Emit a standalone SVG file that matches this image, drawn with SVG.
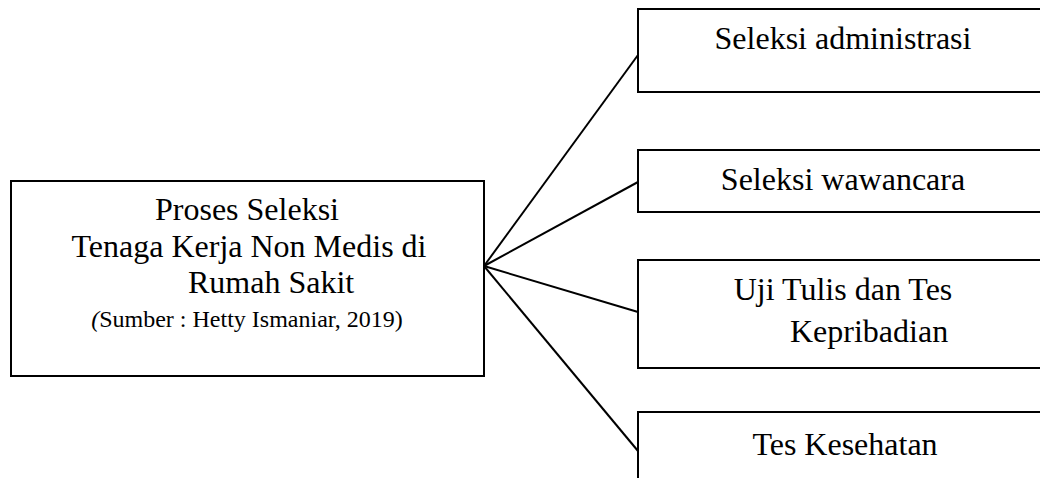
<svg xmlns="http://www.w3.org/2000/svg" width="1040" height="478" viewBox="0 0 1040 478">
<style>
.box{fill:#fff;stroke:#000;stroke-width:2}
.ln{stroke:#000;stroke-width:2;fill:none}
text{font-family:"Liberation Serif","Times New Roman",serif;fill:#000}
.t{font-size:32px}
.s{font-size:24px}
</style>
<rect width="1040" height="478" fill="#fff"/>
<g id="connectors">
<line class="ln" x1="484" y1="266" x2="638" y2="55"/>
<line class="ln" x1="484" y1="266" x2="638" y2="182"/>
<line class="ln" x1="484" y1="266" x2="638" y2="312"/>
<line class="ln" x1="484" y1="266" x2="638" y2="451"/>
</g>
<g id="main">
<rect class="box" x="11" y="181" width="473" height="195"/>
<text class="t" x="247" y="220" text-anchor="middle">Proses Seleksi</text>
<text class="t" x="249" y="257" text-anchor="middle">Tenaga Kerja Non Medis di</text>
<text class="t" x="188" y="293">Rumah Sakit</text>
<text class="s" x="247" y="327" text-anchor="middle"><tspan font-style="italic">(</tspan>Sumber : Hetty Ismaniar, 2019)</text>
</g>
<g id="n1">
<rect class="box" x="638" y="9" width="420" height="83"/>
<text class="t" x="843" y="49" text-anchor="middle">Seleksi administrasi</text>
</g>
<g id="n2">
<rect class="box" x="638" y="150" width="420" height="62"/>
<text class="t" x="843" y="190" text-anchor="middle">Seleksi wawancara</text>
</g>
<g id="n3">
<rect class="box" x="638" y="260" width="420" height="108"/>
<text class="t" x="843" y="300" text-anchor="middle">Uji Tulis dan Tes</text>
<text class="t" x="790" y="342">Kepribadian</text>
</g>
<g id="n4">
<rect class="box" x="638" y="412" width="420" height="100"/>
<text class="t" x="845" y="455" text-anchor="middle">Tes Kesehatan</text>
</g>
</svg>
